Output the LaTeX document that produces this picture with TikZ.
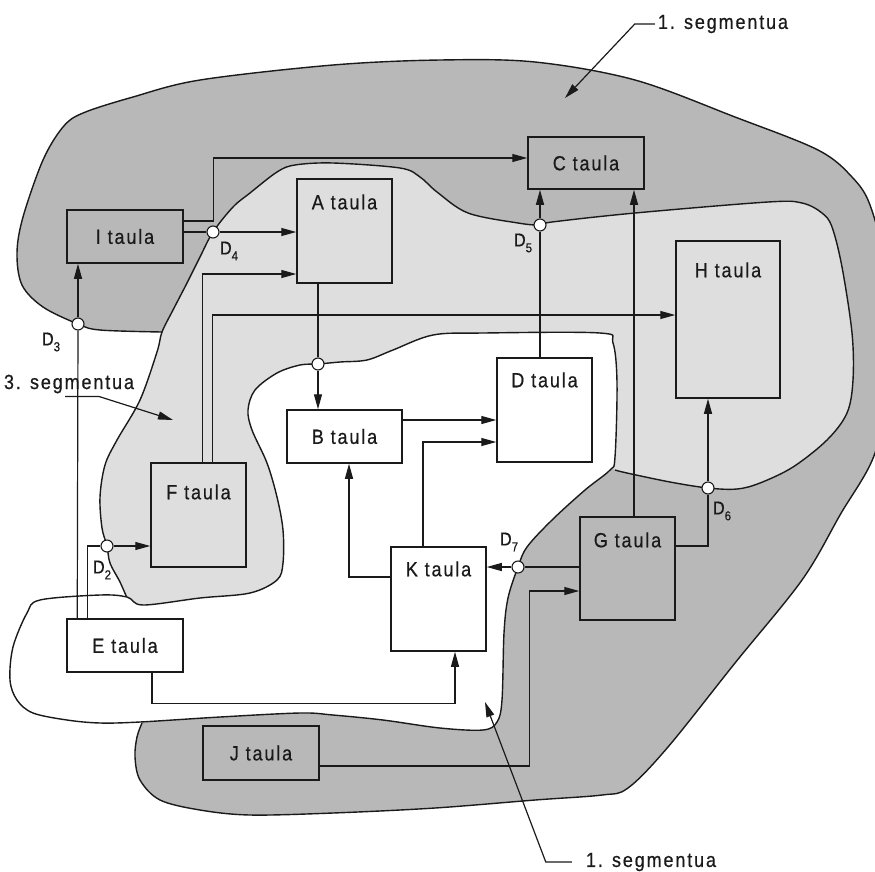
\documentclass[tikz,border=0pt]{standalone}
\usepackage{fontspec}
\setmainfont{Liberation Sans}[FakeStretch=0.88, LetterSpace=9, FakeBold=0.6]
\usetikzlibrary{arrows.meta,calc}
\definecolor{segdark}{HTML}{B8B8B8}
\definecolor{seglight}{HTML}{DEDEDE}
\definecolor{ink}{HTML}{1A1A1A}
\newcommand\tabfont{\fontsize{20.5}{23}\selectfont}
\newcommand\dsub[1]{\raisebox{-0.32em}{\fontsize{13}{14}\selectfont #1}}
\tikzset{
  tbl/.style={draw=ink, line width=1.5pt, inner sep=0pt, font=\tabfont, text=ink},
  darkbox/.style={tbl, fill=segdark},
  lightbox/.style={tbl, fill=seglight},
  whitebox/.style={tbl, fill=white},
  widebox/.style={minimum width=116pt, minimum height=53pt},
  tallbox/.style={minimum width=95pt, minimum height=104pt},
  tbllabel/.style={anchor=base, font=\tabfont, text=ink, inner sep=0pt},
  conn/.style={draw=ink, line width=1.2pt},
  arr/.style={conn, -{Triangle[length=15pt,width=8pt]}},
  junc/.style={circle, draw=ink, fill=white, line width=1.1pt, minimum size=12pt, inner sep=0pt},
  blob/.style={draw=ink, line width=1.4pt},
  dlabel/.style={font=\fontsize{18.5}{19}\selectfont, text=ink, inner sep=0pt},
  seglabel/.style={font=\tabfont, text=ink, inner sep=3pt},
}
\begin{document}
\begin{tikzpicture}[x=1pt,y=-1pt]
\useasboundingbox (0,0) rectangle (875,871);
\clip (0,0) rectangle (875,871);

% ---- segment regions ----
\fill[segdark] plot[smooth,tension=0.55] coordinates {(162,332) (100,330) (78,324) (43,307) (22,285) (17,253) (23,217) (43,160) (63,127) (83,113) (133,97) (200,80) (333,65) (440,60) (535,62) (635,80) (735,117) (818,150) (852,177) (870,205) (882,260) (885,380) (875,453) (840,515) (802,580) (735,663) (668,747) (628,788) (602,795) (535,800) (435,808) (333,813) (250,815) (200,810) (160,800) (140,780) (135,757) (137,737) (142,723)} -- (160,705) -- (200,690) -- (210,560) -- (200,420) -- cycle;
\draw[blob] plot[smooth,tension=0.55] coordinates {(162,332) (100,330) (78,324) (43,307) (22,285) (17,253) (23,217) (43,160) (63,127) (83,113) (133,97) (200,80) (333,65) (440,60) (535,62) (635,80) (735,117) (818,150) (852,177) (870,205) (882,260) (885,380) (875,453) (840,515) (802,580) (735,663) (668,747) (628,788) (602,795) (535,800) (435,808) (333,813) (250,815) (200,810) (160,800) (140,780) (135,757) (137,737) (142,723)};

\fill[seglight] plot[smooth,tension=0.55] coordinates {(127,598) (120,582) (110,563) (107,546) (102,528) (100,497) (105,465) (117,440) (140,400) (157,352) (162,332) (173,310) (187,283) (200,257) (213,232) (233,207) (250,193) (277,172) (295,165) (333,163) (400,168) (420,177) (437,192) (468,213) (518,223) (540,225) (552,222) (635,213) (768,202) (802,203) (822,213) (832,227) (842,267) (852,333) (853,380) (847,413) (827,440) (793,467) (760,483) (737,489) (708,488) (670,482) (627,473) (615,470)} -- (560,420) -- (330,560) -- (220,660) -- cycle;
\draw[blob] plot[smooth,tension=0.55] coordinates {(127,598) (120,582) (110,563) (107,546) (102,528) (100,497) (105,465) (117,440) (140,400) (157,352) (162,332) (173,310) (187,283) (200,257) (213,232) (233,207) (250,193) (277,172) (295,165) (333,163) (400,168) (420,177) (437,192) (468,213) (518,223) (540,225) (552,222) (635,213) (768,202) (802,203) (822,213) (832,227) (842,267) (852,333) (853,380) (847,413) (827,440) (793,467) (760,483) (737,489) (708,488) (670,482) (627,473) (615,470)};

\draw[blob, fill=white] plot[smooth cycle,tension=0.55] coordinates {(318,364) (340,362) (367,360) (393,350) (433,335) (483,333) (600,333) (613,343) (617,383) (615,457) (610,470) (585,490) (552,520) (527,547) (518,567) (508,598) (504,633) (502,700) (497,722) (483,730) (440,728) (383,720) (333,715) (300,713) (220,717) (140,722) (100,723) (67,720) (33,713) (17,700) (10,680) (13,647) (27,613) (40,600) (100,595) (127,597) (143,605) (200,598) (250,593) (277,580) (283,563) (283,530) (277,497) (267,463) (252,430) (248,410) (255,390) (277,373) (300,365)};

% ---- tables ----
\node[darkbox, widebox] (I) at (125,236.5) {I taula};
\node[darkbox, widebox, minimum height=52pt] (C) at (586,163) {C taula};
\node[lightbox, tallbox, label={[tbllabel, yshift=-31pt]north:A taula}] (A) at (344.5,231) {};
\node[lightbox, tallbox, minimum width=104pt, minimum height=157pt, label={[tbllabel, yshift=-37pt]north:H taula}] (H) at (728,319.5) {};
\node[whitebox, tallbox, label={[tbllabel, yshift=-30pt]north:D taula}] (D) at (544.5,410) {};
\node[whitebox, widebox, minimum width=115pt] (B) at (344.5,436.5) {B taula};
\node[lightbox, tallbox, label={[tbllabel, yshift=-37pt]north:F taula}] (F) at (198.5,515) {};
\node[whitebox, widebox] (E) at (125,645.5) {E taula};
\node[darkbox, widebox, minimum height=54pt] (J) at (261,753) {J taula};
\node[whitebox, tallbox, label={[tbllabel, yshift=-30pt]north:K taula}] (K) at (438.5,599) {};
\node[darkbox, tallbox, minimum height=103pt, label={[tbllabel, yshift=-31pt]north:G taula}] (G) at (627.5,568.5) {};

% ---- junctions ----
\node[junc] (d3) at (78,324) {};
\node[junc] (d4) at (213,232) {};
\node[junc] (d5) at (540,225) {};
\node[junc] (d2) at (107,546) {};
\node[junc] (d6) at (708,488) {};
\node[junc] (d7) at (518,567) {};
\node[junc] (dab) at (318,364) {};

\node[dlabel] at (51,342) {D\dsub{3}};
\node[dlabel] at (229,251) {D\dsub{4}};
\node[dlabel] at (523,243) {D\dsub{5}};
\node[dlabel] at (102,570) {D\dsub{2}};
\node[dlabel] at (722,511) {D\dsub{6}};
\node[dlabel] at (509,542) {D\dsub{7}};

% ---- connectors ----
\draw[arr] ([yshift=15.5pt]I.east) -- ++(30,0) |- ([yshift=5pt]C.west);
\draw[conn] ([yshift=4.5pt]I.east) -- (d4);
\draw[arr] (d4) -- (A.west |- d4);
\draw[conn] ([xshift=11pt]E.north west) -- (d3);
\draw[arr] (d3) -- (I.south -| d3);
\draw[conn] ([xshift=21pt]E.north west) |- (d2);
\draw[arr] (d2) -- (F.west |- d2);
\draw[arr] ([xshift=52pt]F.north west) |- ([yshift=-43pt]A.west);
\draw[arr] ([xshift=62pt]F.north west) |- ([yshift=4.5pt]H.west);
\draw[conn] ([xshift=-26.5pt]A.south) -- (dab);
\draw[arr] (dab) -- (B.north -| dab);
\draw[arr] ([yshift=16.5pt]B.east) -- ([yshift=-10pt]D.west);
\draw[arr] ([xshift=-15.5pt]K.north) |- ([yshift=-32pt]D.west);
\draw[arr] ([yshift=22pt]K.west) -| ([xshift=4.5pt]B.south);
\draw[arr] ([xshift=27pt]E.south) -- ++(0,31) -| ([xshift=16.5pt]K.south);
\draw[arr] ([yshift=-13pt]J.east) -- ++(210,0) |- ([yshift=-22.5pt]G.west);
\draw[conn] ([yshift=1.5pt]G.west) -- (d7);
\draw[arr] (d7) -- (K.east |- d7);
\draw[arr] ([xshift=6.5pt]G.north) -- ([xshift=48pt]C.south);
\draw[conn] ([xshift=-4.5pt]D.north) -- (d5);
\draw[arr] (d5) -- (C.south -| d5);
\draw[conn] ([yshift=22.5pt]G.east) -| (d6);
\draw[arr] (d6) -- (H.south -| d6);

% ---- segment labels ----
\node[seglabel] (s1t) at (723,24) {1. segmentua};
\coordinate (s1tip) at (565,98);
\draw[arr] (s1t.west) -- ++(-20,0) -- (s1tip);
\node[seglabel] (s3t) at (69,384) {3. segmentua};
\coordinate (s3tip) at (173,420);
\draw[arr] ([xshift=-4pt]s3t.south) -- ++(34,0) -- (s3tip);
\node[seglabel] (s1b) at (651,862) {1. segmentua};
\coordinate (s1btip) at (485,702);
\draw[arr] ([xshift=-11pt]s1b.west) -- ++(-26,0) -- (s1btip);
\end{tikzpicture}
\end{document}
